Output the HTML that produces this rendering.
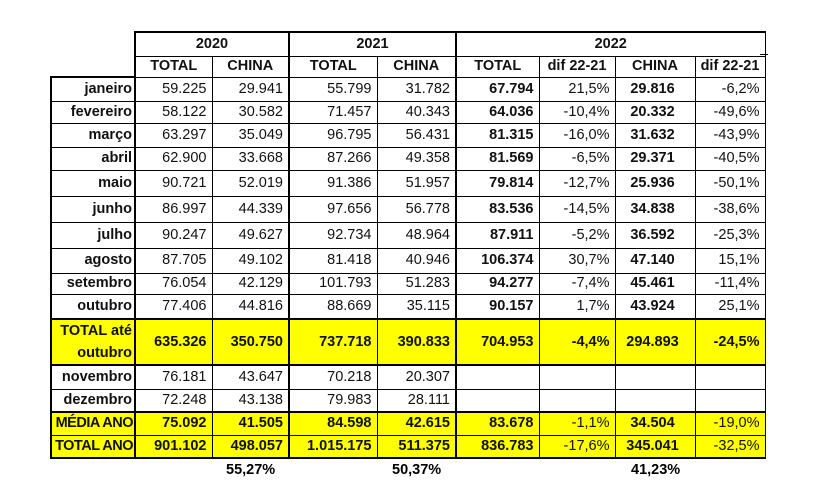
<!DOCTYPE html>
<html><head><meta charset="utf-8"><style>
body{margin:0;width:820px;height:480px;background:#fff;position:relative;font-family:"Liberation Sans",sans-serif;overflow:hidden}
table{position:absolute;left:50px;top:31px;border-collapse:collapse;table-layout:fixed;font-size:14.5px;color:#111}
td{border:1px solid #000;padding:0 5px 0 0;text-align:right;white-space:nowrap;line-height:15px;overflow:hidden}
td.h{text-align:center;font-weight:bold;padding:0}
td.l{font-weight:bold;padding-right:2px}
.b{font-weight:bold}
.y td{background:#ffff00}
.g{border-left:2px solid #000}
.e{border:none;background:none}
.p{position:absolute;top:462px;font-weight:bold;font-size:14.5px}
</style></head><body>
<table>
<colgroup><col style="width:84px"><col style="width:77px"><col style="width:77px"><col style="width:88px"><col style="width:79px"><col style="width:83px"><col style="width:76px"><col style="width:80px"><col style="width:70px"></colgroup>
<tr style="height:24px"><td class="e"></td><td class="h g" colspan="2" style="border-top:2px solid #000">2020</td><td class="h g" colspan="2" style="border-top:2px solid #000">2021</td><td class="h g" colspan="4" style="border-top:2px solid #000">2022</td></tr>
<tr style="height:21px"><td class="e" style="border-bottom:2px solid #000"></td><td class="h g">TOTAL</td><td class="h">CHINA</td><td class="h g">TOTAL</td><td class="h">CHINA</td><td class="h g">TOTAL</td><td class="h">dif 22-21</td><td class="h">CHINA</td><td class="h">dif 22-21</td></tr>
<tr style="height:24px"><td class="l" style="border-left:2px solid #000">janeiro</td><td class="g">59.225</td><td>29.941</td><td class="g">55.799</td><td>31.782</td><td class="g b">67.794</td><td>21,5%</td><td class="b" style="text-align:center">29.816</td><td>-6,2%</td></tr>
<tr style="height:22px"><td class="l" style="border-left:2px solid #000">fevereiro</td><td class="g">58.122</td><td>30.582</td><td class="g">71.457</td><td>40.343</td><td class="g b">64.036</td><td>-10,4%</td><td class="b" style="text-align:center">20.332</td><td>-49,6%</td></tr>
<tr style="height:24px"><td class="l" style="border-left:2px solid #000">março</td><td class="g">63.297</td><td>35.049</td><td class="g">96.795</td><td>56.431</td><td class="g b">81.315</td><td>-16,0%</td><td class="b" style="text-align:center">31.632</td><td>-43,9%</td></tr>
<tr style="height:23px"><td class="l" style="border-left:2px solid #000">abril</td><td class="g">62.900</td><td>33.668</td><td class="g">87.266</td><td>49.358</td><td class="g b">81.569</td><td>-6,5%</td><td class="b" style="text-align:center">29.371</td><td>-40,5%</td></tr>
<tr style="height:26px"><td class="l" style="border-left:2px solid #000">maio</td><td class="g">90.721</td><td>52.019</td><td class="g">91.386</td><td>51.957</td><td class="g b">79.814</td><td>-12,7%</td><td class="b" style="text-align:center">25.936</td><td>-50,1%</td></tr>
<tr style="height:26px"><td class="l" style="border-left:2px solid #000">junho</td><td class="g">86.997</td><td>44.339</td><td class="g">97.656</td><td>56.778</td><td class="g b">83.536</td><td>-14,5%</td><td class="b" style="text-align:center">34.838</td><td>-38,6%</td></tr>
<tr style="height:26px"><td class="l" style="border-left:2px solid #000">julho</td><td class="g">90.247</td><td>49.627</td><td class="g">92.734</td><td>48.964</td><td class="g b">87.911</td><td>-5,2%</td><td class="b" style="text-align:center">36.592</td><td>-25,3%</td></tr>
<tr style="height:25px"><td class="l" style="border-left:2px solid #000">agosto</td><td class="g">87.705</td><td>49.102</td><td class="g">81.418</td><td>40.946</td><td class="g b">106.374</td><td>30,7%</td><td class="b" style="text-align:center">47.140</td><td>15,1%</td></tr>
<tr style="height:21px"><td class="l" style="border-left:2px solid #000">setembro</td><td class="g">76.054</td><td>42.129</td><td class="g">101.793</td><td>51.283</td><td class="g b">94.277</td><td>-7,4%</td><td class="b" style="text-align:center">45.461</td><td>-11,4%</td></tr>
<tr style="height:25px"><td class="l" style="border-left:2px solid #000">outubro</td><td class="g">77.406</td><td>44.816</td><td class="g">88.669</td><td>35.115</td><td class="g b">90.157</td><td>1,7%</td><td class="b" style="text-align:center">43.924</td><td>25,1%</td></tr>
<tr class="y" style="height:45px;border-top:2px solid #000;border-bottom:2px solid #000"><td class="l" style="border-left:2px solid #000;line-height:22px">TOTAL até<br>outubro</td><td class="g b">635.326</td><td class="b">350.750</td><td class="g b">737.718</td><td class="b">390.833</td><td class="g b">704.953</td><td class="b">-4,4%</td><td class="b" style="text-align:center">294.893</td><td class="b">-24,5%</td></tr>
<tr style="height:24px"><td class="l" style="border-left:2px solid #000">novembro</td><td class="g">76.181</td><td>43.647</td><td class="g">70.218</td><td>20.307</td><td class="g"></td><td></td><td></td><td></td></tr>
<tr style="height:23px"><td class="l" style="border-left:2px solid #000">dezembro</td><td class="g">72.248</td><td>43.138</td><td class="g">79.983</td><td>28.111</td><td class="g"></td><td></td><td></td><td></td></tr>
<tr class="y" style="height:23px;border-top:2px solid #000"><td class="l" style="border-left:2px solid #000;padding-right:1px;letter-spacing:-0.5px">MÉDIA ANO</td><td class="g b">75.092</td><td class="b">41.505</td><td class="g b">84.598</td><td class="b">42.615</td><td class="g b">83.678</td><td>-1,1%</td><td class="b" style="text-align:center">34.504</td><td>-19,0%</td></tr>
<tr class="y" style="height:23px;border-bottom:2px solid #000"><td class="l" style="border-left:2px solid #000;padding-right:1px;letter-spacing:-0.5px">TOTAL ANO</td><td class="g b">901.102</td><td class="b">498.057</td><td class="g b">1.015.175</td><td class="b">511.375</td><td class="g b">836.783</td><td>-17,6%</td><td class="b" style="text-align:center">345.041</td><td>-32,5%</td></tr>
</table>
<div style="position:absolute;left:760px;top:54px;width:8px;height:1px;background:#000"></div>
<div class="p" style="left:226px">55,27%</div>
<div class="p" style="left:392px">50,37%</div>
<div class="p" style="left:631px">41,23%</div>
</body></html>
